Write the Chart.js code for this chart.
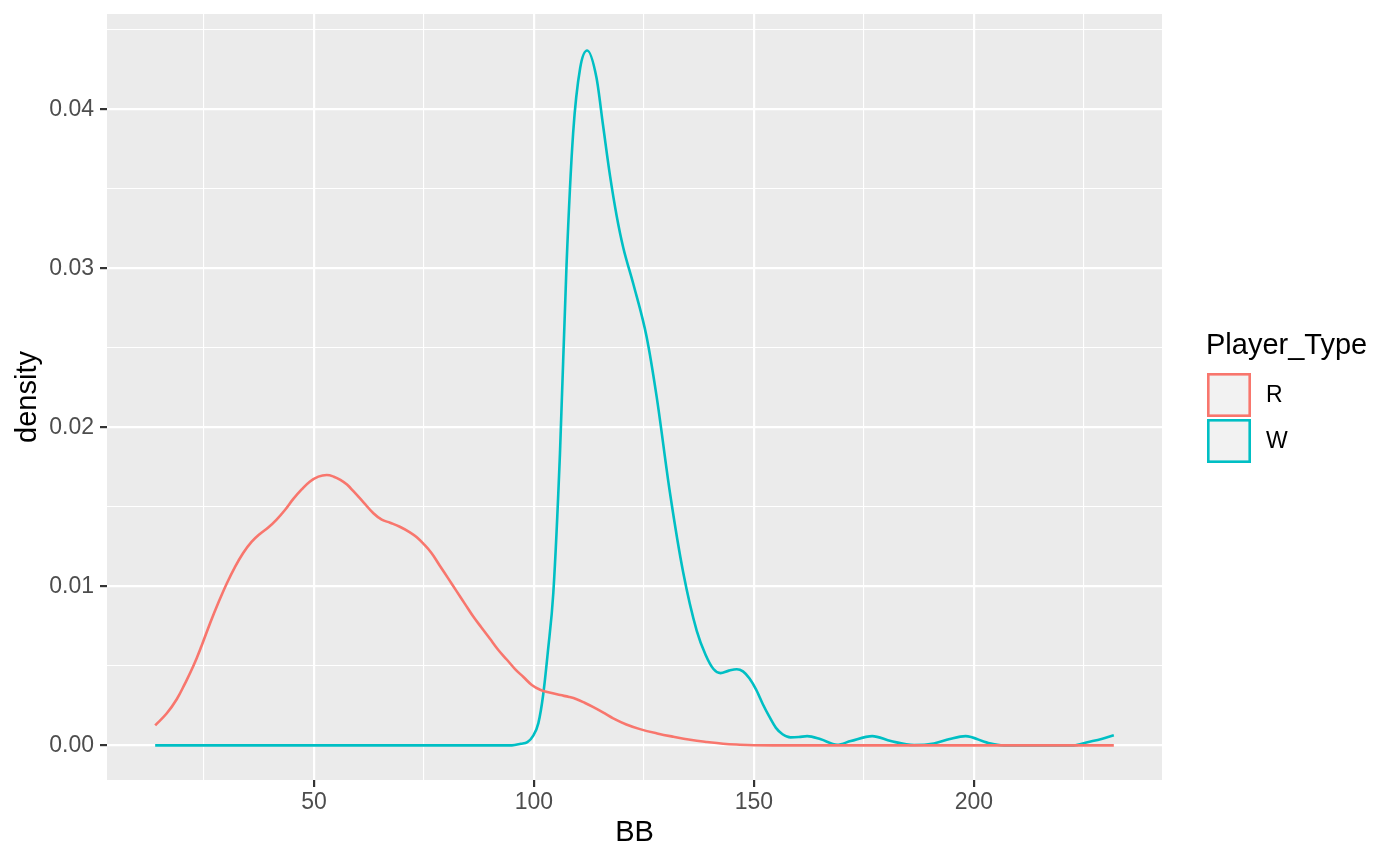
<!DOCTYPE html>
<html>
<head>
<meta charset="utf-8">
<title>BB density by Player_Type</title>
<script src="https://cdn.jsdelivr.net/npm/chart.js@4.4.1/dist/chart.umd.min.js"></script>
<style>
  html, body { margin: 0; padding: 0; background: #fff; }
</style>
</head>
<body>
<canvas id="densityChart" width="1400" height="865"></canvas>
<script>
const seriesNames = ["R", "W"];
const seriesColors = ["#F8766D", "#00BFC4"];

const bbR = [13.9, 16.5, 18.8, 20.7, 22.6, 24.5, 26.4, 28.3, 30.2, 32, 33.9, 35.8, 37.7, 39.6, 41.5, 43.4, 45.3, 47.2, 49.1, 51,
  52.9, 54.5, 56, 57.5, 58.9, 61.2, 63.5, 65.4, 67.3, 69.5, 71.8, 73.3, 74.8, 76.7, 78.6, 80.5, 82.4, 84.3, 86.2, 88.1,
  90, 91.9, 93.8, 95.7, 97.6, 99.5, 101.4, 103.5, 106, 108, 109.7, 111.5, 113.5, 116, 118, 121, 124.1, 128, 131.7, 135.5,
  139.3, 143, 146.8, 150, 155, 170, 190, 210, 231.8];
const densR = [0.00126, 0.0020, 0.0029, 0.0039, 0.0050, 0.0063, 0.0077, 0.0090, 0.0102, 0.0112, 0.0121, 0.0128, 0.0133, 0.0137, 0.0142, 0.0148, 0.0155, 0.0161, 0.0166, 0.0169,
  0.0170, 0.0169, 0.0167, 0.0164, 0.0160, 0.0153, 0.0146, 0.0142, 0.0140, 0.01375, 0.0134, 0.0131, 0.0127, 0.0121, 0.0113, 0.0105, 0.0097, 0.0089, 0.0081, 0.0074,
  0.0067, 0.0060, 0.0054, 0.0048, 0.0043, 0.0038, 0.0035, 0.00332, 0.00316, 0.00304, 0.0029, 0.00268, 0.0024, 0.00202, 0.0017, 0.00131, 0.00102, 0.00075, 0.00054, 0.00035,
  0.00021, 0.0001, 0.00004, 0.00001, 0, 0, 0, 0, 0];

const bbW = [13.9, 60, 95, 97, 98.5, 99.8, 101, 102.1, 103.2, 104.4, 105.9, 107.4, 108.9, 110.5, 112.1, 114.2, 115.7, 117.3, 118.8, 120.3,
  122.6, 125.6, 127.9, 130.9, 133.9, 137, 139, 140.8, 142.4, 144.3, 146.1, 147.5, 149, 150.5, 152, 153.5, 155, 156.5, 158.3, 160.2,
  162.1, 165.2, 168.9, 172, 176.9, 181.1, 186.4, 190.9, 194.5, 198.1, 203, 206.8, 215, 222.7, 225.8, 229, 231.8];
const densW = [0, 0, 0, 0.0001, 0.0002, 0.0006, 0.0014, 0.0032, 0.0060, 0.0096, 0.0183, 0.0302, 0.0385, 0.0426, 0.0437, 0.0420, 0.0390, 0.0358, 0.0333, 0.0313,
  0.0290, 0.0257, 0.0219, 0.0159, 0.0109, 0.0072, 0.0057, 0.0048, 0.00454, 0.0047, 0.00479, 0.00465, 0.0042, 0.0035, 0.0026, 0.0018, 0.0011, 0.0007, 0.0005, 0.00052,
  0.00058, 0.00038, 0.00004, 0.00027, 0.00058, 0.00027, 0.00002, 0.00012, 0.0004, 0.00058, 0.00017, 0, 0, 0, 0.0002, 0.0004, 0.00063];

// minor breaks get an empty label
const xTicks = [25, 50, 75, 100, 125, 150, 175, 200, 225];
const xLabels = ["", "50", "", "100", "", "150", "", "200", ""];
const yTicks = [0, 0.005, 0.01, 0.015, 0.02, 0.025, 0.03, 0.035, 0.04, 0.045];
const yLabels = ["0.00", "", "0.01", "", "0.02", "", "0.03", "", "0.04", ""];

const FONT = "'Liberation Sans', Arial, Helvetica, sans-serif";

const panelBackground = {
  id: "panelBackground",
  beforeDraw(chart) {
    const { ctx, chartArea: a } = chart;
    ctx.save();
    ctx.fillStyle = "#EBEBEB";
    ctx.fillRect(a.left, a.top, a.right - a.left, a.bottom - a.top);
    ctx.restore();
  }
};

const ggLegend = {
  id: "ggLegend",
  afterDraw(chart) {
    const ctx = chart.ctx;
    ctx.save();
    ctx.fillStyle = "#000";
    ctx.textBaseline = "middle";
    ctx.font = `29px ${FONT}`;
    ctx.fillText("Player_Type", 1206, 346);
    chart.data.datasets.forEach((ds, i) => {
      const top = 373 + i * 46;
      ctx.fillStyle = "#F2F2F2";
      ctx.fillRect(1207, top, 44, 44);
      ctx.strokeStyle = ds.borderColor;
      ctx.lineWidth = 2.6;
      ctx.strokeRect(1208.3, top + 1.3, 41.4, 41.4);
      ctx.fillStyle = "#000";
      ctx.font = `23px ${FONT}`;
      ctx.fillText(ds.label, 1266, top + 23);
    });
    ctx.restore();
  }
};

function toPoints(xs, ys) {
  return xs.map((x, i) => ({ x: x, y: ys[i] }));
}

function renderChart() {
  const ctx = document.getElementById("densityChart").getContext("2d");
  new Chart(ctx, {
    type: "line",
    data: {
      datasets: [
        {
          label: seriesNames[0],
          data: toPoints(bbR, densR),
          borderColor: seriesColors[0],
          borderWidth: 2.6,
          pointRadius: 0,
          fill: false,
          tension: 0.4
        },
        {
          label: seriesNames[1],
          data: toPoints(bbW, densW),
          borderColor: seriesColors[1],
          borderWidth: 2.6,
          pointRadius: 0,
          fill: false,
          cubicInterpolationMode: "monotone"
        }
      ]
    },
    options: {
      responsive: false,
      animation: false,
      layout: { padding: { left: 0, top: 14, right: 238, bottom: 0 } },
      plugins: {
        legend: { display: false },
        tooltip: { enabled: false }
      },
      scales: {
        x: {
          type: "linear",
          min: 2.95,
          max: 242.75,
          afterBuildTicks: scale => { scale.ticks = xTicks.map(v => ({ value: v })); },
          afterFit: scale => {
            scale.height = 85;
            scale.paddingLeft = 0;
            scale.paddingRight = 0;
          },
          border: { display: false },
          grid: {
            color: "#FFFFFF",
            lineWidth: c => (xLabels[c.index] ? 2.2 : 1.1),
            tickLength: 7,
            tickColor: c => (xLabels[c.index] ? "#333333" : "rgba(0,0,0,0)"),
            tickWidth: 2.2
          },
          ticks: {
            autoSkip: false,
            maxRotation: 0,
            padding: 2,
            color: "#4D4D4D",
            font: { family: FONT, size: 23 },
            callback: (value, index) => xLabels[index]
          },
          title: {
            display: true,
            text: "BB",
            color: "#000",
            font: { family: FONT, size: 29 },
            padding: { top: 0, bottom: 15 }
          }
        },
        y: {
          min: -0.00218,
          max: 0.0460,
          afterBuildTicks: scale => { scale.ticks = yTicks.map(v => ({ value: v })); },
          afterFit: scale => {
            scale.width = 107;
            scale.paddingTop = 0;
            scale.paddingBottom = 0;
          },
          border: { display: false },
          grid: {
            color: "#FFFFFF",
            lineWidth: c => (yLabels[c.index] ? 2.2 : 1.1),
            tickLength: 7,
            tickColor: c => (yLabels[c.index] ? "#333333" : "rgba(0,0,0,0)"),
            tickWidth: 2.2
          },
          ticks: {
            autoSkip: false,
            padding: 6,
            color: "#4D4D4D",
            font: { family: FONT, size: 23 },
            callback: (value, index) => yLabels[index]
          },
          title: {
            display: true,
            text: "density",
            color: "#000",
            font: { family: FONT, size: 29 },
            padding: { top: 11, bottom: 0 }
          }
        }
      }
    },
    plugins: [panelBackground, ggLegend]
  });
}

renderChart();
</script>
</body>
</html>
